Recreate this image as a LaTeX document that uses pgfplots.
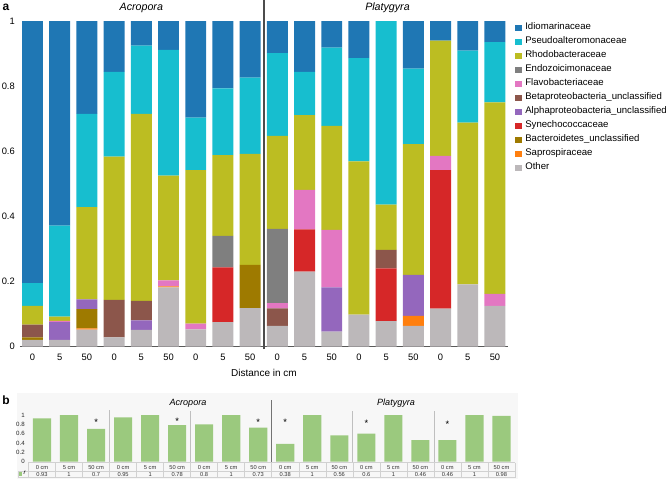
\documentclass[border=0pt]{standalone}
\usepackage{pgfplots}
\pgfplotsset{compat=1.18}
\usepackage{pgfplotstable}
\usepackage{fontspec}
\setmainfont{Liberation Sans}

\definecolor{cIdio}{HTML}{1F77B4}
\definecolor{cPseudo}{HTML}{17BECF}
\definecolor{cRhodo}{HTML}{BCBD22}
\definecolor{cEndo}{HTML}{7F7F7F}
\definecolor{cFlavo}{HTML}{E377C2}
\definecolor{cBeta}{HTML}{8C564B}
\definecolor{cAlpha}{HTML}{9467BD}
\definecolor{cSyn}{HTML}{D62728}
\definecolor{cBact}{HTML}{9E7A00}
\definecolor{cSapro}{HTML}{FF7F0E}
\definecolor{cOther}{HTML}{BCB8BA}
\definecolor{cGreen}{HTML}{9BC97E}

\pgfplotstableread{
x  other sapro bact  syn   alpha beta  flavo endo  rhodo pseudo idio
0  0.020 0     0.008 0     0     0.039 0     0     0.058 0.070  0.805
1  0.020 0     0     0     0.055 0     0.004 0     0.013 0.279  0.629
2  0.052 0.004 0.059 0     0.030 0     0     0     0.283 0.287  0.285
3  0.028 0     0     0     0     0.115 0     0     0.440 0.261  0.156
4  0.051 0     0     0     0.029 0.060 0     0     0.575 0.209  0.076
5  0.182 0.003 0     0     0     0     0.018 0     0.322 0.386  0.089
6  0.053 0     0     0     0     0     0.017 0     0.472 0.161  0.297
7  0.075 0     0     0.168 0     0     0     0.097 0.248 0.205  0.207
8  0.118 0     0.133 0     0     0     0     0     0.341 0.234  0.174
9  0.063 0     0     0     0     0.054 0.016 0.228 0.286 0.254  0.099
10 0.230 0     0     0.130 0     0     0.121 0     0.230 0.133  0.156
11 0.046 0     0     0     0.136 0     0.176 0     0.320 0.240  0.082
12 0.098 0     0     0     0     0     0     0     0.471 0.317  0.114
13 0.078 0     0     0.162 0     0.057 0     0     0.139 0.564  0
14 0.063 0.031 0     0     0.126 0     0     0     0.402 0.232  0.146
15 0.116 0     0     0.426 0     0     0.044 0     0.354 0     0.060
16 0.191 0     0     0     0     0     0     0     0.497 0.221  0.091
17 0.125 0     0     0     0     0     0.037 0     0.588 0.185  0.065
}\dataA

\begin{document}
\begin{tikzpicture}
\useasboundingbox (0,0) rectangle (501pt,360pt);
% panel b background
\fill[black!3] (12.75pt,0.75pt) rectangle (388.5pt,65.25pt);

\node[font=\bfseries\fontsize{9}{10}\selectfont] at (4.5pt,354.5pt) {a};
\node[font=\bfseries\fontsize{9}{10}\selectfont] at (4.5pt,60pt) {b};

% ---------------- panel a ----------------
\begin{axis}[
  at={(15pt,100.125pt)}, anchor=south west,
  scale only axis, width=366pt, height=244.125pt,
  xmin=-0.46, xmax=17.48, ymin=0, ymax=1,
  clip=false,
  ybar stacked, bar width=0.77,
  axis x line*=bottom, axis y line*=left,
  x axis line style={draw=black!65, line width=1.1pt},
  y axis line style={draw=none},
  major tick length=0pt,
  xtick={0,...,17},
  xticklabels={0,5,50,0,5,50,0,5,50,0,5,50,0,5,50,0,5,50},
  ytick={0,0.2,0.4,0.6,0.8,1},
  yticklabels={0,0.2,0.4,0.6,0.8,1},
  ticklabel style={font=\fontsize{7}{8}\selectfont},
  xticklabel style={inner sep=0pt, anchor=north, yshift=-5.2pt},
  yticklabel style={inner sep=0pt, anchor=east, xshift=-3.75pt},
  xlabel={Distance in cm},
  xlabel style={font=\fontsize{7.5}{9}\selectfont, at={(axis description cs:0.5,-0.0805)}, anchor=center},
  /pgf/number format/assume math mode=true,
  reverse legend,
  legend cell align=left,
  legend image code/.code={\fill[#1,draw=none] (0pt,-2.6pt) rectangle (5.25pt,2.6pt);},
  legend style={at={(1.0143,1.0)}, anchor=north west, draw=none, fill=none,
    inner sep=0pt, outer sep=0pt, row sep=0pt, column sep=2.5pt,
    nodes={inner sep=0pt, font=\fontsize{7.2}{8}\selectfont, text height=6.5pt, text depth=4pt, anchor=west}},
]
\addplot[fill=cOther, draw=none] table[x=x,y=other]{\dataA};
\addlegendentry{Other}
\addplot[fill=cSapro, draw=none] table[x=x,y=sapro]{\dataA};
\addlegendentry{Saprospiraceae}
\addplot[fill=cBact, draw=none] table[x=x,y=bact]{\dataA};
\addlegendentry{Bacteroidetes\_unclassified}
\addplot[fill=cSyn, draw=none] table[x=x,y=syn]{\dataA};
\addlegendentry{Synechococcaceae}
\addplot[fill=cAlpha, draw=none] table[x=x,y=alpha]{\dataA};
\addlegendentry{Alphaproteobacteria\_unclassified}
\addplot[fill=cBeta, draw=none] table[x=x,y=beta]{\dataA};
\addlegendentry{Betaproteobacteria\_unclassified}
\addplot[fill=cFlavo, draw=none] table[x=x,y=flavo]{\dataA};
\addlegendentry{Flavobacteriaceae}
\addplot[fill=cEndo, draw=none] table[x=x,y=endo]{\dataA};
\addlegendentry{Endozoicimonaceae}
\addplot[fill=cRhodo, draw=none] table[x=x,y=rhodo]{\dataA};
\addlegendentry{Rhodobacteraceae}
\addplot[fill=cPseudo, draw=none] table[x=x,y=pseudo]{\dataA};
\addlegendentry{Pseudoalteromonaceae}
\addplot[fill=cIdio, draw=none] table[x=x,y=idio]{\dataA};
\addlegendentry{Idiomarinaceae}

\draw[line width=1.5pt, black!70] (axis cs:8.5,-0.008) -- (axis cs:8.5,1.065);
\node[font=\itshape\fontsize{8}{9}\selectfont] at (axis cs:4,1.04) {Acropora};
\node[font=\itshape\fontsize{8}{9}\selectfont] at (axis cs:13.05,1.04) {Platygyra};
\end{axis}

% ---------------- panel b ----------------
\begin{axis}[
  at={(21.375pt,13.875pt)}, anchor=south west,
  scale only axis, width=364.875pt, height=34.875pt,
  xmin=-0.5, xmax=17.5, ymin=0, ymax=1,
  clip=false,
  axis line style={draw=none},
  major tick length=0pt,
  ytick={0,0.2,0.4,0.6,0.8,1},
  yticklabels={0,0.2,0.4,0.6,0.8,1},
  yticklabel style={inner sep=0pt, anchor=east, xshift=-2.6pt, font=\fontsize{4.6}{5}\selectfont, text=black!85},
  xtick={0,...,17},
  xticklabels={{0 cm\\0.93},{5 cm\\1},{50 cm\\0.7},{0 cm\\0.95},{5 cm\\1},{50 cm\\0.78},
    {0 cm\\0.8},{5 cm\\1},{50 cm\\0.73},{0 cm\\0.38},{5 cm\\1},{50 cm\\0.56},
    {0 cm\\0.6},{5 cm\\1},{50 cm\\0.46},{0 cm\\0.46},{5 cm\\1},{50 cm\\0.98}},
  xticklabel style={align=center, inner sep=0pt, anchor=north, yshift=-2.5pt,
    font=\fontsize{4.3}{5.44}\selectfont, text=black!80},
  /pgf/number format/assume math mode=true,
  legend image code/.code={\fill[#1,draw=none] (0pt,-1.2pt) rectangle (2.4pt,1.2pt);},
  legend style={at={(axis description cs:-0.0195,-0.269)}, anchor=west, draw=none, fill=none,
    inner sep=0pt, outer sep=0pt, column sep=1pt,
    nodes={inner sep=0pt, font=\fontsize{4.6}{5}\selectfont, anchor=west}},
]
% table grid
\draw[black!18, line width=0.4pt] (axis cs:-0.5,-0.026) -- (axis cs:17.5,-0.026);
\draw[black!18, line width=0.4pt] (axis cs:-0.888,-0.204) -- (axis cs:17.5,-0.204);
\draw[black!18, line width=0.4pt] (axis cs:-0.888,-0.344) -- (axis cs:17.5,-0.344);
\draw[black!18, line width=0.4pt] (axis cs:-0.888,-0.204) -- (axis cs:-0.888,-0.344);
\pgfplotsinvokeforeach{-0.5,0.5,1.5,2.5,3.5,4.5,5.5,6.5,7.5,8.5,9.5,10.5,11.5,12.5,13.5,14.5,15.5,16.5,17.5}{
  \draw[black!18, line width=0.4pt] (axis cs:#1,-0.026) -- (axis cs:#1,-0.344);
}
\addplot[ybar, bar width=0.67, fill=cGreen, draw=none] coordinates {
(0,0.93) (1,1) (2,0.7) (3,0.95) (4,1) (5,0.78) (6,0.8) (7,1) (8,0.73)
(9,0.38) (10,1) (11,0.56) (12,0.6) (13,1) (14,0.46) (15,0.46) (16,1) (17,0.98)};
\addlegendentry{\textit{r}}
\addplot[draw=none, no markers, forget plot, nodes near coords={*},
  every node near coord/.append style={anchor=center, inner sep=0pt, font=\fontsize{7}{7}\selectfont}]
  coordinates {(2,0.84) (5,0.86) (8,0.84) (9,0.84) (12,0.82) (15,0.8)};

\draw[black!25, line width=0.6pt] (axis cs:2.5,0) -- (axis cs:2.5,1.1);
\draw[black!25, line width=0.6pt] (axis cs:5.5,0) -- (axis cs:5.5,1.08);
\draw[black!55, line width=1.0pt] (axis cs:8.5,0) -- (axis cs:8.5,1.32);
\draw[black!25, line width=0.6pt] (axis cs:11.5,0) -- (axis cs:11.5,1.08);
\draw[black!25, line width=0.6pt] (axis cs:14.5,0) -- (axis cs:14.5,1.08);
\node[font=\itshape\fontsize{6.8}{8}\selectfont] at (axis cs:5.4,1.26) {Acropora};
\node[font=\itshape\fontsize{6.8}{8}\selectfont] at (axis cs:13.1,1.26) {Platygyra};
\end{axis}
\end{tikzpicture}
\end{document}
